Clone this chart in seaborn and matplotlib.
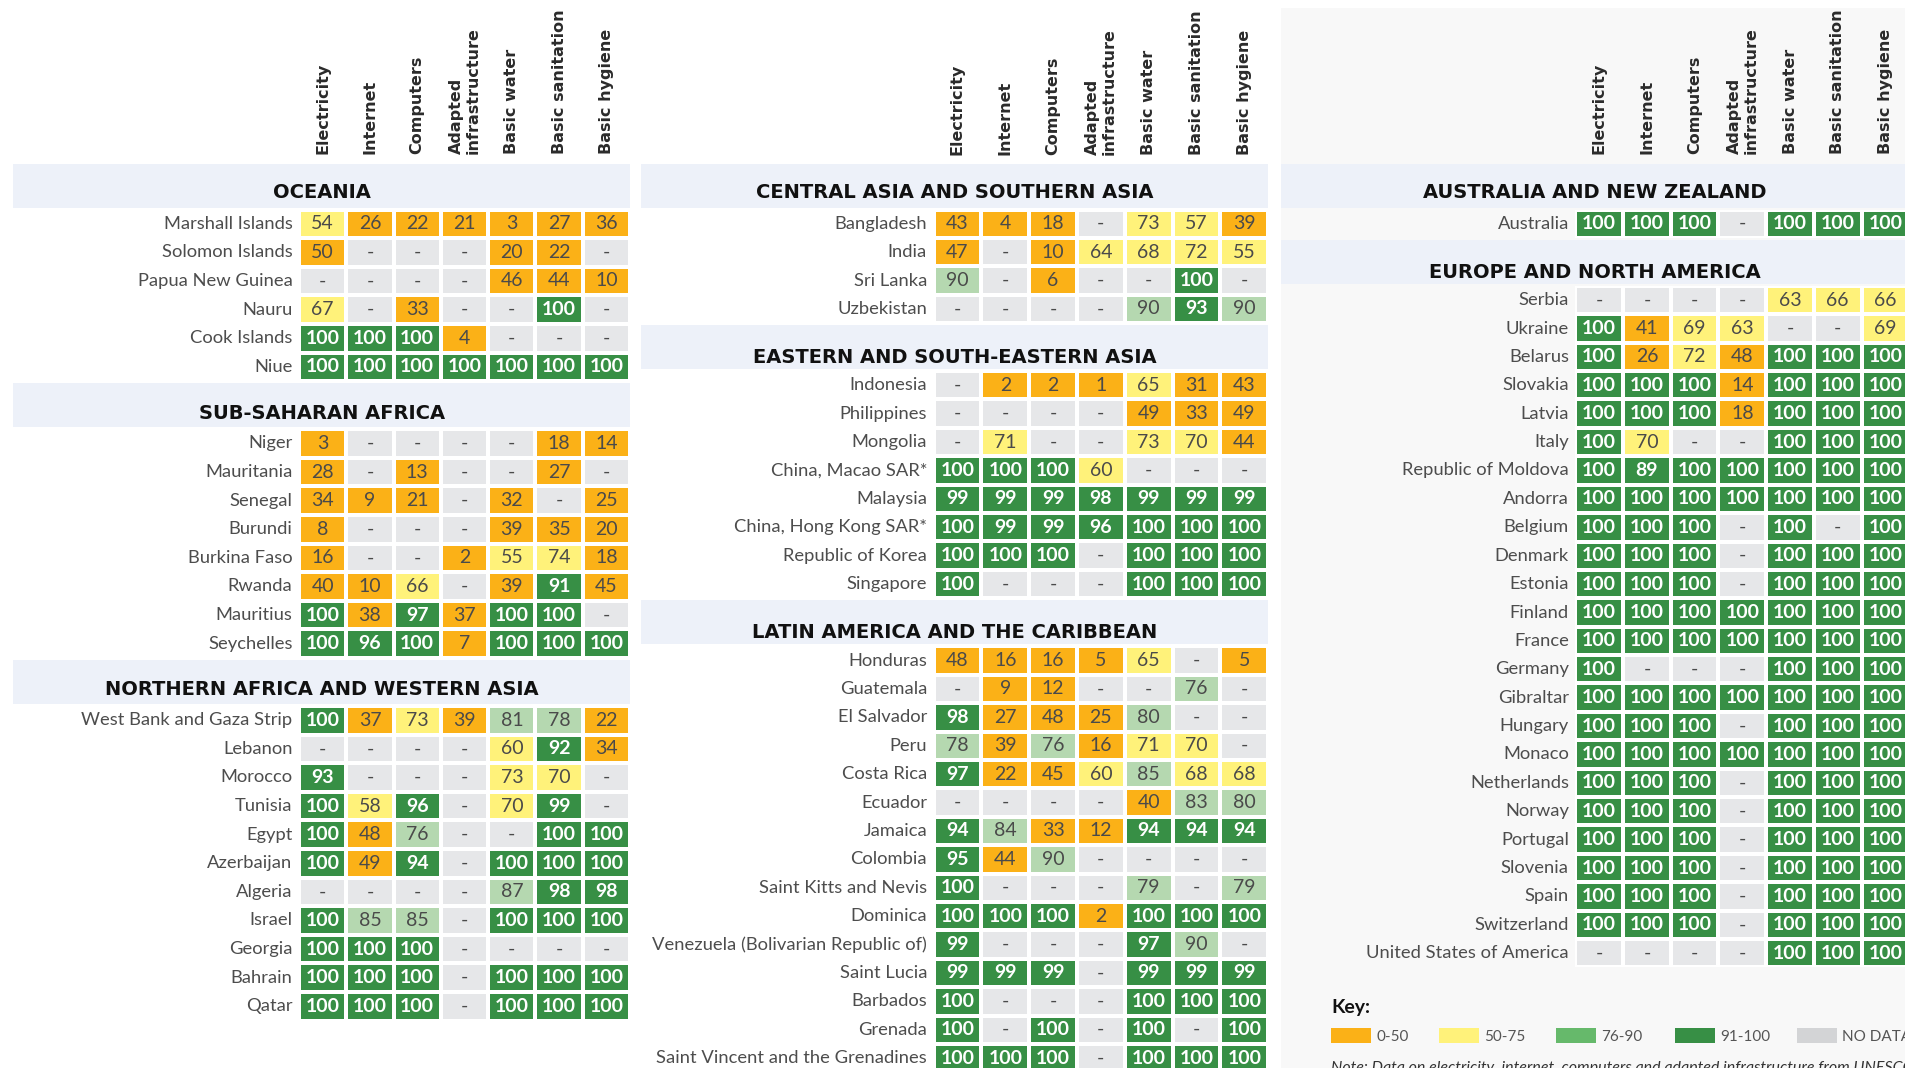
import numpy as np
import pandas as pd
import matplotlib
matplotlib.use("Agg")
import matplotlib.pyplot as plt
import seaborn as sns
from matplotlib.colors import ListedColormap
from matplotlib.patches import Rectangle, Patch

sns.set_theme(style="white")
plt.rcParams["font.family"] = ["Lato", "DejaVu Sans"]

N = None  # no data

INDICATORS = ["Electricity", "Internet", "Computers", "Adapted\ninfrastructure",
              "Basic water", "Basic sanitation", "Basic hygiene"]

# ---------------- data ----------------
oceania_countries = ["Marshall Islands", "Solomon Islands", "Papua New Guinea", "Nauru",
                     "Cook Islands", "Niue"]
oceania_values = [
    [54, 26, 22, 21, 3, 27, 36],
    [50, N, N, N, 20, 22, N],
    [N, N, N, N, 46, 44, 10],
    [67, N, 33, N, N, 100, N],
    [100, 100, 100, 4, N, N, N],
    [100, 100, 100, 100, 100, 100, 100],
]

ssa_countries = ["Niger", "Mauritania", "Senegal", "Burundi", "Burkina Faso", "Rwanda",
                 "Mauritius", "Seychelles"]
ssa_values = [
    [3, N, N, N, N, 18, 14],
    [28, N, 13, N, N, 27, N],
    [34, 9, 21, N, 32, N, 25],
    [8, N, N, N, 39, 35, 20],
    [16, N, N, 2, 55, 74, 18],
    [40, 10, 66, N, 39, 91, 45],
    [100, 38, 97, 37, 100, 100, N],
    [100, 96, 100, 7, 100, 100, 100],
]

nawa_countries = ["West Bank and Gaza Strip", "Lebanon", "Morocco", "Tunisia", "Egypt",
                  "Azerbaijan", "Algeria", "Israel", "Georgia", "Bahrain", "Qatar"]
nawa_values = [
    [100, 37, 73, 39, 81, 78, 22],
    [N, N, N, N, 60, 92, 34],
    [93, N, N, N, 73, 70, N],
    [100, 58, 96, N, 70, 99, N],
    [100, 48, 76, N, N, 100, 100],
    [100, 49, 94, N, 100, 100, 100],
    [N, N, N, N, 87, 98, 98],
    [100, 85, 85, N, 100, 100, 100],
    [100, 100, 100, N, N, N, N],
    [100, 100, 100, N, 100, 100, 100],
    [100, 100, 100, N, 100, 100, 100],
]

casa_countries = ["Bangladesh", "India", "Sri Lanka", "Uzbekistan"]
casa_values = [
    [43, 4, 18, N, 73, 57, 39],
    [47, N, 10, 64, 68, 72, 55],
    [90, N, 6, N, N, 100, N],
    [N, N, N, N, 90, 93, 90],
]

esea_countries = ["Indonesia", "Philippines", "Mongolia", "China, Macao SAR*", "Malaysia",
                  "China, Hong Kong SAR*", "Republic of Korea", "Singapore"]
esea_values = [
    [N, 2, 2, 1, 65, 31, 43],
    [N, N, N, N, 49, 33, 49],
    [N, 71, N, N, 73, 70, 44],
    [100, 100, 100, 60, N, N, N],
    [99, 99, 99, 98, 99, 99, 99],
    [100, 99, 99, 96, 100, 100, 100],
    [100, 100, 100, N, 100, 100, 100],
    [100, N, N, N, 100, 100, 100],
]

lac_countries = ["Honduras", "Guatemala", "El Salvador", "Peru", "Costa Rica", "Ecuador",
                 "Jamaica", "Colombia", "Saint Kitts and Nevis", "Dominica",
                 "Venezuela (Bolivarian Republic of)", "Saint Lucia", "Barbados", "Grenada",
                 "Saint Vincent and the Grenadines"]
lac_values = [
    [48, 16, 16, 5, 65, N, 5],
    [N, 9, 12, N, N, 76, N],
    [98, 27, 48, 25, 80, N, N],
    [78, 39, 76, 16, 71, 70, N],
    [97, 22, 45, 60, 85, 68, 68],
    [N, N, N, N, 40, 83, 80],
    [94, 84, 33, 12, 94, 94, 94],
    [95, 44, 90, N, N, N, N],
    [100, N, N, N, 79, N, 79],
    [100, 100, 100, 2, 100, 100, 100],
    [99, N, N, N, 97, 90, N],
    [99, 99, 99, N, 99, 99, 99],
    [100, N, N, N, 100, 100, 100],
    [100, N, 100, N, 100, N, 100],
    [100, 100, 100, N, 100, 100, 100],
]

anz_countries = ["Australia"]
anz_values = [
    [100, 100, 100, N, 100, 100, 100],
]

ena_countries = ["Serbia", "Ukraine", "Belarus", "Slovakia", "Latvia", "Italy",
                 "Republic of Moldova", "Andorra", "Belgium", "Denmark", "Estonia", "Finland",
                 "France", "Germany", "Gibraltar", "Hungary", "Monaco", "Netherlands", "Norway",
                 "Portugal", "Slovenia", "Spain", "Switzerland", "United States of America"]
ena_values = [
    [N, N, N, N, 63, 66, 66],
    [100, 41, 69, 63, N, N, 69],
    [100, 26, 72, 48, 100, 100, 100],
    [100, 100, 100, 14, 100, 100, 100],
    [100, 100, 100, 18, 100, 100, 100],
    [100, 70, N, N, 100, 100, 100],
    [100, 89, 100, 100, 100, 100, 100],
    [100, 100, 100, 100, 100, 100, 100],
    [100, 100, 100, N, 100, N, 100],
    [100, 100, 100, N, 100, 100, 100],
    [100, 100, 100, N, 100, 100, 100],
    [100, 100, 100, 100, 100, 100, 100],
    [100, 100, 100, 100, 100, 100, 100],
    [100, N, N, N, 100, 100, 100],
    [100, 100, 100, 100, 100, 100, 100],
    [100, 100, 100, N, 100, 100, 100],
    [100, 100, 100, 100, 100, 100, 100],
    [100, 100, 100, N, 100, 100, 100],
    [100, 100, 100, N, 100, 100, 100],
    [100, 100, 100, N, 100, 100, 100],
    [100, 100, 100, N, 100, 100, 100],
    [100, 100, 100, N, 100, 100, 100],
    [100, 100, 100, N, 100, 100, 100],
    [N, N, N, N, 100, 100, 100],
]

# colour class shown in the source that differs from the value thresholds
COLOR_OVERRIDES = {("Republic of Moldova", "Internet"): 4}

KEY_LABELS = ["0-50", "50-75", "76-90", "91-100", "NO DATA"]
KEY_COLORS = ["#fbb117", "#fff27a", "#66b96b", "#378f45", "#d3d4d6"]
CELL_COLORS = ["#e6e7e9", "#fbb117", "#fff27a", "#b5d8b0", "#378f45"]  # nodata, 0-50, 50-75, 76-90, 91-100
CMAP = ListedColormap(CELL_COLORS)

PANELS = [
    [("OCEANIA", oceania_countries, oceania_values),
     ("SUB-SAHARAN AFRICA", ssa_countries, ssa_values),
     ("NORTHERN AFRICA AND WESTERN ASIA", nawa_countries, nawa_values)],
    [("CENTRAL ASIA AND SOUTHERN ASIA", casa_countries, casa_values),
     ("EASTERN AND SOUTH-EASTERN ASIA", esea_countries, esea_values),
     ("LATIN AMERICA AND THE CARIBBEAN", lac_countries, lac_values)],
    [("AUSTRALIA AND NEW ZEALAND", anz_countries, anz_values),
     ("EUROPE AND NORTH AMERICA", ena_countries, ena_values)],
]

# ---------------- layout (pixels) ----------------
W, H, DPI = 1906, 1068, 100
GEOM = [dict(cell_x=299.0, col_w=47.3, pitch=28.6, band_x=13.4, title_off=16.0),
        dict(cell_x=933.6, col_w=47.8, pitch=28.4, band_x=640.6, title_off=13.5),
        dict(cell_x=1575.4, col_w=47.7, pitch=28.4, band_x=1281.0, title_off=13.5)]
FIRST_TOP = 209.5
REGION_GAP = 48.0
KEY_X = [1331, 1439, 1556, 1675, 1797]


def frect(x, y, w, h):
    return [x / W, 1 - (y + h) / H, w / W, h / H]


def category(v):
    if v is None:
        return 0
    if v <= 50:
        return 1
    if v <= 75:
        return 2
    if v <= 90:
        return 3
    return 4


fig = plt.figure(figsize=(W / DPI, H / DPI), dpi=DPI, facecolor="white")

# right panel light background
fig.add_artist(Rectangle((1281 / W, 0), 1 - 1281 / W, 1 - 8 / H, transform=fig.transFigure,
                         facecolor="#f8f8f8", edgecolor="none", zorder=-3))

LABEL_FONT = ["Lato", "DejaVu Sans"]
PT = 72.0 / DPI  # pixels -> points

for pi, regions in enumerate(PANELS):
    g = GEOM[pi]
    total_w = 7 * g["col_w"]
    top = FIRST_TOP
    for ri, (title, countries, values) in enumerate(regions):
        n = len(countries)
        h = n * g["pitch"]
        # band
        bx0 = g["band_x"]
        bx1 = g["cell_x"] + total_w
        fig.add_artist(Rectangle((bx0 / W, 1 - (top - 2) / H), (bx1 - bx0) / W, 44 / H,
                                 transform=fig.transFigure, facecolor="#edf1f9",
                                 edgecolor="none", zorder=-2))
        off = 17.0 if ri == 0 else g["title_off"]
        fig.text((bx0 + bx1) / 2 / W, 1 - (top - off) / H, title, ha="center", va="center",
                 fontsize=14, fontweight="bold", color="#111111", family=["DejaVu Sans"])

        cats = np.array([[category(v) for v in row] for row in values])
        for (cn, ind), c in COLOR_OVERRIDES.items():
            if cn in countries:
                cats[countries.index(cn), INDICATORS.index(ind)] = c
        annot = np.array([["-" if v is None else str(v) for v in row] for row in values])
        df = pd.DataFrame(cats, index=countries, columns=INDICATORS)

        ax = fig.add_axes(frect(g["cell_x"], top, total_w, h))
        sns.heatmap(df, ax=ax, cmap=CMAP, vmin=-0.5, vmax=4.5, cbar=False,
                    annot=annot, fmt="", linewidths=1.5, linecolor="white",
                    xticklabels=False, yticklabels=False)
        ax.patch.set_alpha(0)
        for t, c in zip(ax.texts, cats.flat):
            t.set_fontsize(14)
            t.set_family(LABEL_FONT)
            if c == 4:
                t.set_color("white")
                t.set_fontweight("bold")
            else:
                t.set_color("#4a4a4a")
                t.set_fontweight("normal")

        ax.set_yticks(np.arange(n) + 0.5)
        ax.set_yticklabels(countries, rotation=0, fontsize=13.2, color="#4d4d4d",
                           family=LABEL_FONT, va="center")
        ax.tick_params(axis="y", length=0, pad=6.5 * PT)
        ax.set_ylabel("")

        if ri == 0:
            ax.xaxis.set_ticks_position("top")
            ax.set_xticks(np.arange(7) + 0.5)
            ax.set_xticklabels(INDICATORS, rotation=90, fontsize=11.5, fontweight="bold",
                               color="#2b2b2b", family=["DejaVu Sans"], linespacing=1.15)
            for lbl in ax.get_xticklabels():
                lbl.set_multialignment("left")
            ax.tick_params(axis="x", length=0, pad=(top - 154.5) * PT)
        else:
            ax.set_xticks([])
        ax.set_xlabel("")
        top += h + REGION_GAP

# ---------------- key ----------------
KEY_FONT = ["Liberation Sans Narrow", "Lato", "DejaVu Sans"]
fig.text(1331 / W, 1 - 1008 / H, "Key:", ha="left", va="center", fontsize=14,
         fontweight="bold", color="#111111", family=KEY_FONT)
for x, c, l in zip(KEY_X, KEY_COLORS, KEY_LABELS):
    leg = fig.legend(handles=[Patch(facecolor=c, edgecolor="none", label=l)],
                     loc="center left", bbox_to_anchor=(x / W, 1 - 1036 / H),
                     frameon=False, handlelength=2.6, handleheight=1.1, handletextpad=0.35,
                     borderpad=0, borderaxespad=0, prop=dict(family=KEY_FONT, size=11))
    for t in leg.get_texts():
        t.set_color("#555555")

fig.text(1331 / W, 1 - 1061 / H,
         "Note: Data on electricity, internet, computers and adapted infrastructure from UNESCO",
         ha="left", va="top", fontsize=11.5, style="italic", color="#333333", family=KEY_FONT)

fig.savefig("out.png", dpi=DPI, facecolor="white")
